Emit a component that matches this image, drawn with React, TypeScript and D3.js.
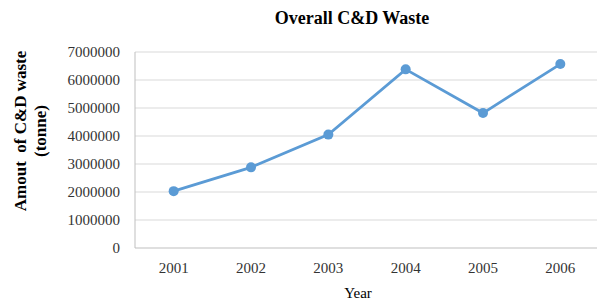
import React, { useRef, useEffect } from "react";
import * as d3 from "d3";

const years = ["2001", "2002", "2003", "2004", "2005", "2006"];
const waste = [2030000, 2880000, 4050000, 6380000, 4820000, 6570000];
const yTicks = [0, 1000000, 2000000, 3000000, 4000000, 5000000, 6000000, 7000000];

const W = 597;
const H = 302;
const serif = "'Liberation Serif', 'Times New Roman', serif";

export default function App() {
  const ref = useRef<SVGSVGElement>(null);

  useEffect(() => {
    const svg = d3.select(ref.current);
    svg.selectAll("*").remove();

    const left = 135, right = 599, top = 52, bottom = 248;

    const x = d3.scaleBand().domain(years).range([left, right]);
    const y = d3.scaleLinear().domain([0, 7000000]).range([bottom, top]);

    // gridlines
    svg.append("g")
      .selectAll("line")
      .data(yTicks.filter(d => d > 0))
      .join("line")
      .attr("x1", left).attr("x2", right)
      .attr("y1", d => y(d)).attr("y2", d => y(d))
      .style("stroke", "#d9d9d9")
      .style("stroke-width", 1);

    // axis lines
    svg.append("line")
      .attr("x1", left).attr("x2", left).attr("y1", top).attr("y2", bottom)
      .style("stroke", "#bfbfbf");
    svg.append("line")
      .attr("x1", left).attr("x2", right).attr("y1", bottom).attr("y2", bottom)
      .style("stroke", "#bfbfbf");

    // y tick labels
    svg.append("g")
      .selectAll("text")
      .data(yTicks)
      .join("text")
      .attr("x", 120)
      .attr("y", d => y(d))
      .attr("dy", "0.35em")
      .attr("text-anchor", "end")
      .style("font-family", serif)
      .style("font-size", "15px")
      .style("fill", "#333")
      .text(d => String(d));

    // x tick labels
    svg.append("g")
      .selectAll("text")
      .data(years)
      .join("text")
      .attr("x", d => (x(d) as number) + x.bandwidth() / 2)
      .attr("y", 273)
      .attr("text-anchor", "middle")
      .style("font-family", serif)
      .style("font-size", "15px")
      .style("fill", "#333")
      .text(d => d);

    const cx = (i: number) => (x(years[i]) as number) + x.bandwidth() / 2;

    const line = d3.line<number>()
      .x((_, i) => cx(i))
      .y(d => y(d));

    svg.append("path")
      .datum(waste)
      .attr("d", line)
      .style("fill", "none")
      .style("stroke", "#5b9bd5")
      .style("stroke-width", 2.75);

    svg.append("g")
      .selectAll("circle")
      .data(waste)
      .join("circle")
      .attr("cx", (_, i) => cx(i))
      .attr("cy", d => y(d))
      .attr("r", 5)
      .style("fill", "#5b9bd5");

    // title
    svg.append("text")
      .attr("x", 352).attr("y", 24)
      .attr("text-anchor", "middle")
      .style("font-family", serif)
      .style("font-weight", "bold")
      .style("font-size", "18px")
      .style("fill", "#000")
      .text("Overall C&D Waste");

    // y axis title
    const yt = svg.append("text")
      .attr("transform", "translate(26,131) rotate(-90)")
      .attr("text-anchor", "middle")
      .style("font-family", serif)
      .style("font-weight", "bold")
      .style("font-size", "17px")
      .style("fill", "#000");
    yt.append("tspan").attr("x", 0).attr("y", 0).attr("xml:space", "preserve").text("Amout  of C&D waste");
    yt.append("tspan").attr("x", 0).attr("y", 20).text("(tonne)");

    // x axis title
    svg.append("text")
      .attr("x", 358).attr("y", 298)
      .attr("text-anchor", "middle")
      .style("font-family", serif)
      .style("font-size", "15px")
      .style("fill", "#000")
      .text("Year");
  }, []);

  return <svg width={W} height={H} ref={ref} style={{ position: "absolute", left: 0, top: 0, background: "#fff" }} />;
}
